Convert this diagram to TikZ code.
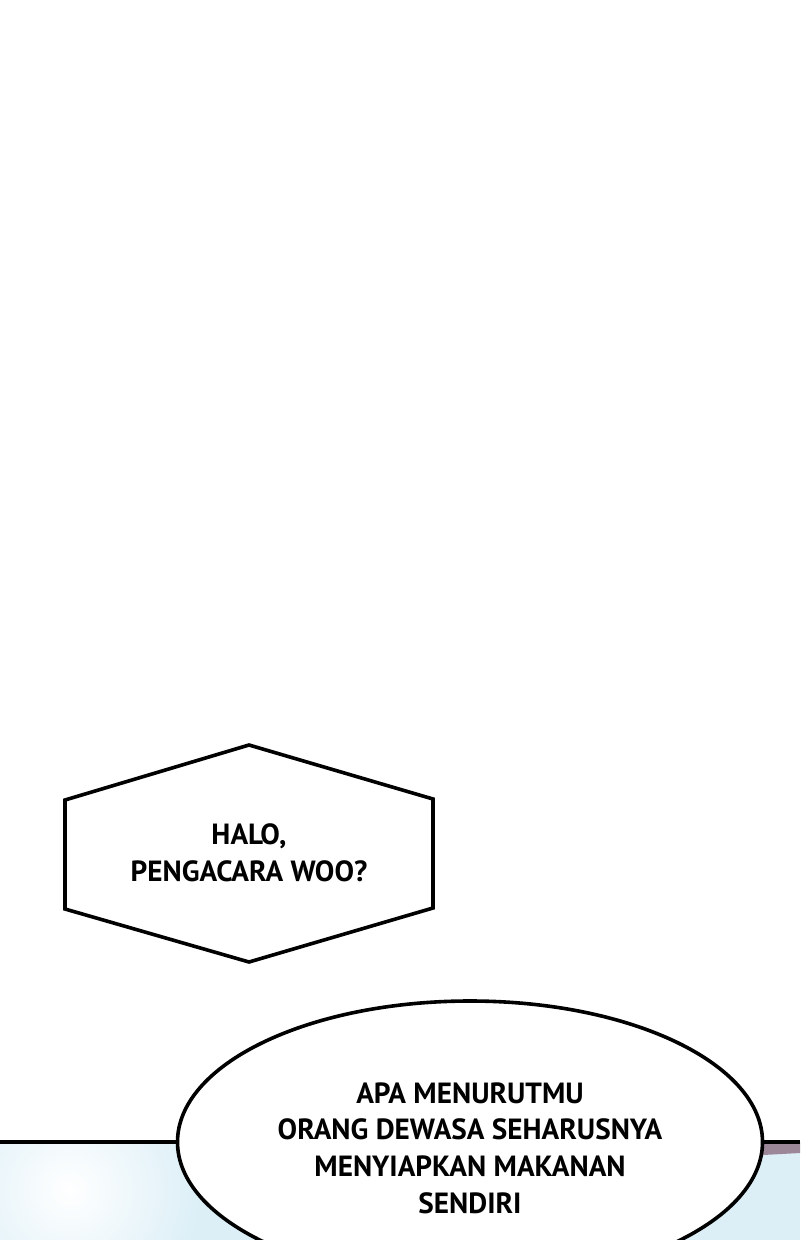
\documentclass[tikz,border=0pt]{standalone}
\usepackage{fontspec}
\setmainfont{PT Sans}
\usetikzlibrary{shapes.geometric}
\definecolor{sky}{HTML}{DCEFF7}
\definecolor{mauve}{HTML}{9C8799}
\begin{document}
\begin{tikzpicture}[x=0.5pt,y=-0.5pt,
        bubble/.style={draw,line width=1.8pt,fill=white},
        says/.style={align=center,font=\bfseries\fontsize{14.6}{18.3}\selectfont}]
        \useasboundingbox (0,0) rectangle (800,1240);
        \fill[white] (0,0) rectangle (800,1142);
        \fill[sky] (0,1142) rectangle (800,1240);
        \begin{scope}
            \clip (0,1142) rectangle (800,1240);
            \shade[inner color=white,outer color=sky] (70,1190) circle (130);
        \end{scope}
        \fill[mauve] (763,1142) -- (800,1142) -- (800,1153) -- (763,1155) -- cycle;
        \coordinate (lend) at (0,1142);
        \coordinate (rend) at (800,1142);
        \draw[bubble] (249,745) -- (433,799) -- (433,908) -- (249,962) -- (65,909) -- (65,800) -- cycle;
        \node[says] (halo) at (249,853) {HALO,\\PENGACARA WOO?};
        \node[bubble,ellipse,inner sep=0pt,minimum width=292.5pt,minimum height=141pt] (ask) at (470,1142) {};
        \draw[line width=1.8pt] (lend) -- (ask.west);
        \draw[line width=1.8pt] (ask.east) -- (rend);
        \node[says] (asktext) at (470,1148) {APA MENURUTMU\\ORANG DEWASA SEHARUSNYA\\MENYIAPKAN MAKANAN\\SENDIRI};
    \end{tikzpicture}
\end{document}
